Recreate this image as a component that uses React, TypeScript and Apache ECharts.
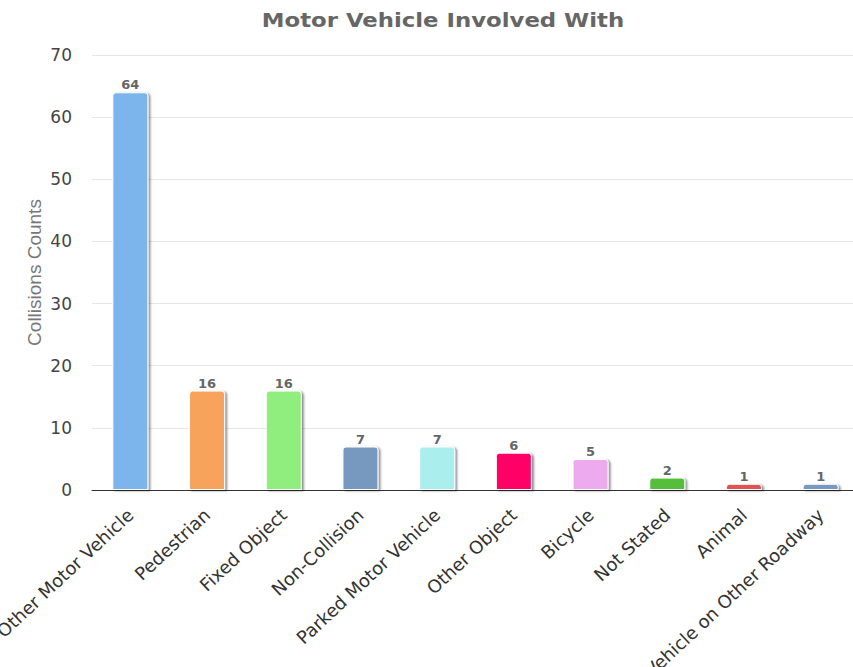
import React, { useEffect, useRef } from "react";
import * as echarts from "echarts";

const categories = [
  "Other Motor Vehicle",
  "Pedestrian",
  "Fixed Object",
  "Non-Collision",
  "Parked Motor Vehicle",
  "Other Object",
  "Bicycle",
  "Not Stated",
  "Animal",
  "Motor Vehicle on Other Roadway",
];

const counts = [64, 16, 16, 7, 7, 6, 5, 2, 1, 1];

const barColors = [
  "#7cb5ec",
  "#f7a35c",
  "#90ee7e",
  "#7798bf",
  "#aaeeee",
  "#ff0066",
  "#eeaaee",
  "#55bf3b",
  "#df5353",
  "#7798bf",
];

const yTicks = { min: 0, max: 70, interval: 10 };

const FONT = "DejaVu Sans, Verdana, sans-serif";

export default function App() {
  const ref = useRef<HTMLDivElement>(null);

  useEffect(() => {
    if (!ref.current) return;
    const chart = echarts.init(ref.current, undefined, { renderer: "svg" });
    chart.setOption({
      animation: false,
      backgroundColor: "#ffffff",
      graphic: [
        {
          type: "text",
          x: 443,
          y: 20,
          scaleX: 1.14,
          style: {
            text: "Motor Vehicle Involved With",
            fontFamily: FONT,
            fontSize: 20,
            fontWeight: "bold",
            fill: "#666666",
            textAlign: "center",
            textVerticalAlign: "middle",
          },
        },
      ],
      grid: {
        left: 92,
        right: 27,
        top: 55,
        bottom: 177,
        containLabel: false,
        outerBoundsMode: "none",
      },
      xAxis: {
        type: "category",
        data: categories,
        axisLine: { show: true, lineStyle: { color: "#333333", width: 1 } },
        axisTick: { show: false },
        axisLabel: {
          rotate: 43,
          interval: 0,
          margin: 22,
          fontFamily: FONT,
          fontSize: 18,
          color: "#333333",
          hideOverlap: false,
        },
      },
      yAxis: {
        type: "value",
        min: yTicks.min,
        max: yTicks.max,
        interval: yTicks.interval,
        name: "Collisions Counts",
        nameLocation: "middle",
        nameGap: 48,
        nameMoveOverlap: false,
        nameTextStyle: {
          fontFamily: "Liberation Sans, Arial, sans-serif",
          fontSize: 19,
          color: "#777777",
        },
        axisLine: { show: false },
        axisTick: { show: false },
        axisLabel: {
          fontFamily: FONT,
          fontSize: 17,
          color: "#444444",
          margin: 20,
        },
        splitLine: { lineStyle: { color: "#e6e6e6", width: 1 } },
      },
      series: [
        {
          type: "bar",
          barWidth: 36,
          data: counts.map((v, i) => ({
            value: v,
            itemStyle: { color: barColors[i] },
          })),
          itemStyle: {
            borderColor: "#ffffff",
            borderWidth: 1,
            borderRadius: [3, 3, 0, 0],
            shadowColor: "rgba(0,0,0,0.45)",
            shadowOffsetX: 2,
            shadowOffsetY: 1,
            shadowBlur: 2,
          },
          label: {
            show: true,
            position: "top",
            distance: 1,
            fontFamily: FONT,
            fontSize: 13,
            fontWeight: "bold",
            color: "#666666",
            textBorderColor: "#ffffff",
            textBorderWidth: 1,
          },
        },
      ],
    });
    return () => chart.dispose();
  }, []);

  return (
    <div
      style={{
        position: "fixed",
        left: 0,
        top: 0,
        width: 853,
        height: 667,
        overflow: "hidden",
        background: "#ffffff",
      }}
    >
      <div ref={ref} style={{ width: 886, height: 667 }} />
    </div>
  );
}
